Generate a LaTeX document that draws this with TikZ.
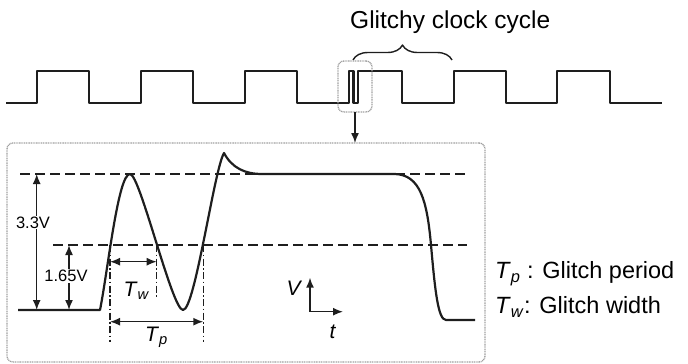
\documentclass[tikz,border=0pt]{standalone}
\usepackage{fontspec}
\setmainfont{Liberation Sans}
\usepackage{xcolor}
\usetikzlibrary{arrows.meta,calc,positioning,decorations.pathreplacing}
\definecolor{ink}{HTML}{1E1E1E}
\newcommand\Tsub[1]{\textit{T}\textsubscript{\textit{#1}}}

\begin{document}
\begin{tikzpicture}[x=1pt,y=-1pt,>={Latex[length=10pt,width=8pt]},line join=round,
wave/.style={draw=ink,line width=2.2pt},
level/.style={draw=ink,line width=1.7pt,dash pattern=on 10pt off 5pt},
dimline/.style={draw=ink,line width=1.1pt,dash pattern=on 7pt off 2.5pt on 1.5pt off 2.5pt},
dimarrow/.style={draw=ink,line width=1.5pt},
frame/.style={draw=gray!75,line width=1.3pt,dash pattern=on 1pt off 0.7pt,rounded corners=6pt,inner sep=0pt,outer sep=0pt},
lbl/.style={font=\fontsize{16.5}{18}\selectfont,fill=white,inner sep=1pt}]
\useasboundingbox (0,0) rectangle (688,364);
\node[anchor=base west,font=\fontsize{24.5}{29}\selectfont,inner sep=0pt] (title) at (350,28.3) {Glitchy clock cycle};
\draw[ink,line width=1.4pt,decorate,decoration={brace,amplitude=15pt}] (353,60)--(452,60);
\draw[ink,line width=2.4pt] (6,103) -| (37,71) -| (89,103) -| (141,71) -| (193,103) -| (245,71) -| (297,103)
 -| (349,71) -| (353.5,103) -| (358,71) -| (402,103) -| (454,71) -| (506,103) -| (557,71) -| (610,103) -- (662,103);
\node[frame,minimum width=34pt,minimum height=51pt] (glitch) at (355,86.5) {};
\node[frame,minimum width=478pt,minimum height=219pt] (zoom) at (246,252.5) {};
\draw[->,ink,line width=1.4pt] (glitch.south) -- (glitch.south |- zoom.north);
\draw[level] (20,174) -- (467,174);
\draw[level] (53,245) -- (467,245);
\draw[wave] (18,310) -- (100,310) .. controls (108,270) and (118,174) .. (130,174)
 .. controls (140,174) and (172,310) .. (183,310)
 .. controls (195,310) and (214,170) .. (224,153)
 .. controls (232,168) and (245,174) .. (262,174) -- (395,174)
 .. controls (420,175) and (427,200) .. (431,245)
 .. controls (435,290) and (438,320) .. (446,320) -- (475,320);
\coordinate (a) at (110,245);
\coordinate (b) at (156.7,245);
\coordinate (c) at (203.3,245);
\draw[dimline] (a) -- ++(0,97);
\draw[dimline] (b) -- ++(0,53);
\draw[dimline] (c) -- ++(0,97);
\draw[<->,dimarrow] ($(a)+(0,16.7)$) -- ($(b)+(0,16.7)$);
\draw[<->,dimarrow] ($(a)+(0,76.7)$) -- ($(c)+(0,76.7)$);
\node[anchor=base,font=\fontsize{21}{24}\selectfont,inner sep=0pt] (tw) at (136.5,296.7) {\Tsub{w}};
\node[anchor=base,font=\fontsize{21}{24}\selectfont,inner sep=0pt] (tp) at (156.5,341.7) {\Tsub{p}};
\draw[<->,dimarrow] (36.7,174) -- (36.7,310);
\draw[<->,dimarrow] (69,245) -- (69,310);
\node[lbl,anchor=base] (full) at (33,228.3) {3.3V};
\node[lbl,anchor=base] (half) at (66,281.7) {1.65V};
\coordinate (o) at (310,311.7);
\draw[->,dimarrow] (o) -- ++(0,-34);
\draw[->,dimarrow] (o) -- ++(33,0);
\node[anchor=base,font=\fontsize{21}{24}\selectfont\itshape,inner sep=0pt] (vax) at (293.5,295) {V};
\node[anchor=base,font=\fontsize{21}{24}\selectfont\itshape,inner sep=0pt] (tax) at (332.5,338) {t};
\node[anchor=base west,font=\fontsize{23.5}{28}\selectfont,inner sep=0pt] (lp) at (495,278.3) {\Tsub{p} : Glitch period};
\node[anchor=base west,font=\fontsize{23.5}{28}\selectfont,inner sep=0pt] (lw) at (495,313.3) {\Tsub{w}: Glitch width};
\end{tikzpicture}
\end{document}
